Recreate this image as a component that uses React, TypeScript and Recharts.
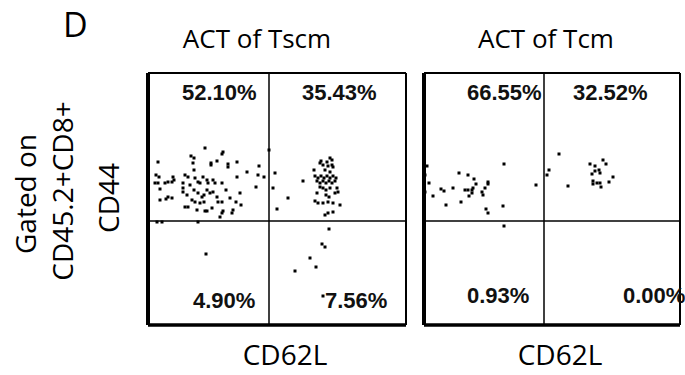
import { ScatterChart, Scatter, XAxis, YAxis, ReferenceLine } from 'recharts';

// flow plot values, in channel units (x: CD62L, y: CD44)
const TSCM_UL = [
  [57, 177], [75, 173], [74, 171], [43, 169], [46, 167], [45, 162], [10, 163], [63, 162], [63, 160],
  [69, 164], [80, 161], [80, 158], [89, 163], [46, 155], [99, 153], [111, 159], [110, 150], [116, 148],
  [89, 148], [8, 150], [11, 148], [7, 142], [10, 142], [17, 142], [20, 143], [24, 143], [25, 148],
  [26, 145], [12, 136], [37, 150], [40, 148], [35, 142], [35, 137], [35, 133], [47, 147], [50, 143],
  [52, 142], [55, 148], [59, 145], [60, 142], [65, 145], [67, 142], [74, 142], [46, 135], [50, 132],
  [54, 128], [59, 135], [62, 132], [65, 133], [92, 132], [108, 138], [18, 126], [20, 128], [24, 127],
  [12, 125], [44, 125], [47, 123], [52, 122], [56, 123], [37, 118], [40, 118], [49, 115], [57, 114],
  [70, 123], [74, 123], [82, 127], [88, 123], [93, 120], [64, 117], [59, 114], [75, 114], [74, 112],
  [85, 115], [84, 112], [72, 108], [0, 137], [0, 133], [121, 175], [42, 140], [56, 130], [39, 130],
  [69, 128], [78, 135],
];
const TSCM_UR = [
  [127, 152], [125, 137], [129, 116], [140, 127], [155, 144], [166, 155], [173, 164], [172, 162],
  [182, 167], [184, 165], [179, 163], [180, 159], [184, 160], [185, 158], [175, 160], [177, 155],
  [182, 153], [167, 149], [170, 147], [173, 149], [176, 147], [179, 149], [182, 147], [185, 149],
  [188, 147], [169, 144], [172, 142], [175, 144], [178, 142], [181, 144], [184, 142], [187, 144],
  [172, 138], [175, 137], [178, 135], [182, 137], [189, 137], [190, 133], [187, 132], [169, 132],
  [178, 130], [181, 128], [167, 124], [170, 122], [175, 122], [180, 123], [185, 122], [192, 120],
  [177, 110], [180, 112], [185, 113],
];
const TSCM_LR = [[181, 96], [174, 81], [177, 78], [162, 67], [168, 58], [147, 54], [175, 29]];
const TSCM_LL = [[58, 71], [9, 103], [14, 103], [50, 103]];

const TCM_UL = [
  [0, 161], [3, 159], [1, 150], [5, 142], [1, 133], [9, 129], [17, 136], [20, 134], [29, 137],
  [22, 120], [35, 152], [37, 123], [44, 150], [50, 146], [52, 141], [41, 135], [44, 135], [48, 135],
  [48, 132], [49, 137], [45, 129], [58, 133], [59, 130], [61, 137], [64, 143], [64, 141], [62, 116],
  [64, 112], [79, 119], [80, 161], [112, 140],
];
const TCM_UR = [
  [125, 155], [123, 150], [135, 171], [144, 139], [166, 161], [171, 159], [175, 155], [176, 152],
  [179, 165], [182, 161], [171, 154], [168, 151], [169, 144], [169, 141], [173, 142], [176, 142],
  [177, 138], [185, 143], [189, 148],
];
const TCM_LL = [[80, 99]];
const TCM_LR: number[][] = [];

const TITLES = ['ACT of Tscm', 'ACT of Tcm'];
const TSCM_PCT = ['52.10%', '35.43%', '4.90%', '7.56%'];
const TCM_PCT = ['66.55%', '32.52%', '0.93%', '0.00%'];

const Y_MAX = 252;

const toPts = (arr: number[][]) => arr.map(([x, y]) => ({ x, y }));

const Dot = (p: any) => <rect x={p.cx - 1.5} y={p.cy - 1.5} width={3} height={3} fill="#000" />;

function FlowPlot({ groups, xMax, gateX, gateY }: { groups: number[][][]; xMax: number; gateX: number; gateY: number }) {
  const data = groups.flatMap(toPts);
  return (
    <ScatterChart width={xMax + 8} height={Y_MAX + 8} margin={{ top: 4, right: 4, bottom: 4, left: 4 }}>
      <XAxis type="number" dataKey="x" domain={[0, xMax]} hide />
      <YAxis type="number" dataKey="y" domain={[0, Y_MAX]} hide />
      <ReferenceLine x={gateX} stroke="#000" strokeWidth={1.5} />
      <ReferenceLine y={gateY} stroke="#000" strokeWidth={1.5} />
      <ReferenceLine x={xMax} stroke="#000" strokeWidth={2} />
      <ReferenceLine y={Y_MAX} stroke="#000" strokeWidth={2} />
      <ReferenceLine x={0} stroke="#000" strokeWidth={4} />
      <ReferenceLine y={0} stroke="#000" strokeWidth={3.5} />
      <Scatter data={data} shape={Dot} isAnimationActive={false} />
    </ScatterChart>
  );
}

export default function App() {
  const pct = { fontFamily: 'Liberation Sans, Arial', fontWeight: 700, fontSize: 22, fill: '#111' };
  const lab = { fontFamily: 'Open Sans', fontSize: 28, fill: '#000' };
  const ttl = { ...lab, fontSize: 26 };
  return (
    <div style={{ position: 'absolute', left: 0, top: 0, width: 685, height: 375, background: '#fff', overflow: 'hidden' }}>
      <div style={{ position: 'absolute', left: 144, top: 69 }}>
        <FlowPlot groups={[TSCM_UL, TSCM_UR, TSCM_LL, TSCM_LR]} xMax={258} gateX={121} gateY={104} />
      </div>
      <div style={{ position: 'absolute', left: 420, top: 69 }}>
        <FlowPlot groups={[TCM_UL, TCM_UR, TCM_LL, TCM_LR]} xMax={256} gateX={120} gateY={104} />
      </div>
      <svg width={685} height={375} style={{ position: 'absolute', left: 0, top: 0, pointerEvents: 'none' }}>
        <text x={63} y={37} style={{ ...lab, fontSize: 34 }}>D</text>
        <text x={257} y={48} textAnchor="middle" style={ttl}>{TITLES[0]}</text>
        <text x={546} y={48} textAnchor="middle" style={ttl}>{TITLES[1]}</text>
        <text x={285} y={365} textAnchor="middle" style={lab}>CD62L</text>
        <text x={560} y={365} textAnchor="middle" style={lab}>CD62L</text>
        <text transform="translate(25,194) rotate(-90)" textAnchor="middle" dominantBaseline="central" style={lab}>Gated on</text>
        <text transform="translate(62,191) rotate(-90)" textAnchor="middle" dominantBaseline="central" style={lab}>CD45.2+CD8+</text>
        <text transform="translate(108,198) rotate(-90)" textAnchor="middle" dominantBaseline="central" style={lab}>CD44</text>
        <text x={182} y={100} style={pct}>{TSCM_PCT[0]}</text>
        <text x={302} y={100} style={pct}>{TSCM_PCT[1]}</text>
        <text x={193} y={308} style={pct}>{TSCM_PCT[2]}</text>
        <text x={325} y={308} style={pct}>{TSCM_PCT[3]}</text>
        <text x={467} y={100} style={pct}>{TCM_PCT[0]}</text>
        <text x={573} y={100} style={pct}>{TCM_PCT[1]}</text>
        <text x={467} y={303} style={pct}>{TCM_PCT[2]}</text>
        <text x={623} y={303} style={pct}>{TCM_PCT[3]}</text>
      </svg>
    </div>
  );
}
